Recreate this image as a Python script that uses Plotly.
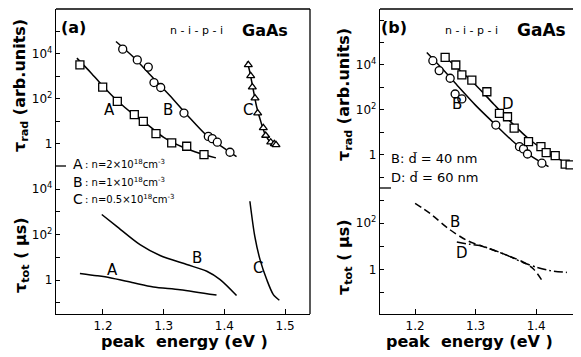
import plotly.graph_objects as go

# ---------------- data ----------------
# panel (a), top: tau_rad (arb. units) vs peak energy (eV)
a_A_x = [1.162, 1.1995, 1.2236, 1.2516, 1.2664, 1.2873, 1.3132, 1.3379, 1.3664]
a_A_y = [3240, 331, 76, 19.5, 9.8, 2.75, 1.07, 0.76, 0.32]
a_A_fit_x = [1.157, 1.18, 1.20, 1.225, 1.25, 1.275, 1.30, 1.33, 1.36, 1.386]
a_A_fit_y = [6450, 1450, 360, 75, 20, 6.5, 1.9, 0.72, 0.36, 0.23]

a_B_x = [1.2325, 1.2565, 1.2746, 1.284, 1.2951, 1.3334, 1.3735, 1.380, 1.3883, 1.4092]
a_B_y = [16200, 5370, 2570, 525, 316, 22.9, 2.09, 1.66, 1.15, 0.41]
a_B_fit_x = [1.2214, 1.25, 1.28, 1.31, 1.34, 1.37, 1.39, 1.42]
a_B_fit_y = [35500, 7200, 1000, 140, 17, 2.4, 0.95, 0.26]

a_C_x = [1.4394, 1.4433, 1.446, 1.4504, 1.4548, 1.4641, 1.468, 1.4763, 1.4822, 1.485]
a_C_y = [3240, 1050, 331, 107, 22.9, 5.0, 2.29, 1.15, 0.98, 0.87]
a_C_fit_x = [1.4377, 1.442, 1.447, 1.453, 1.46, 1.468, 1.476, 1.486]
a_C_fit_y = [4570, 1500, 300, 45, 9.5, 2.3, 1.15, 0.85]

# panel (a), bottom: tau_tot (us)
a_A_tot_x = [1.162, 1.19, 1.2115, 1.25, 1.283, 1.327, 1.387]
a_A_tot_y = [1.95, 1.55, 1.26, 0.76, 0.50, 0.38, 0.22]
a_B_tot_x = [1.198, 1.2226, 1.261, 1.294, 1.338, 1.371, 1.393, 1.420]
a_B_tot_y = [760, 229, 36, 12.0, 4.8, 2.45, 1.05, 0.21]
a_C_tot_x = [1.442, 1.450, 1.4587, 1.4697, 1.4806, 1.4905]
a_C_tot_y = [2900, 85, 7.9, 1.05, 0.23, 0.13]

# panel (b), top: tau_rad (arb. units)
b_B_x = [1.2293, 1.2397, 1.2579, 1.2661, 1.2772, 1.3333, 1.3724, 1.379, 1.3856, 1.4094]
b_B_y = [15500, 5620, 2570, 513, 309, 21.4, 2.34, 1.86, 1.10, 0.43]
b_B_fit_x = [1.2193, 1.245, 1.27, 1.30, 1.33, 1.36, 1.39, 1.4203]
b_B_fit_y = [36300, 6800, 1200, 160, 26, 4.4, 0.95, 0.30]

b_D_x = [1.2496, 1.2672, 1.2772, 1.2937, 1.3185, 1.3393, 1.3526, 1.3636,
         1.3873, 1.4078, 1.4165, 1.4314, 1.4479, 1.456]
b_D_y = [21900, 10000, 3630, 2140, 646, 71, 50, 15.5, 3.9, 2.34, 1.26, 0.93, 0.39, 0.36]
b_D_fit_x = [1.245, 1.27, 1.30, 1.33, 1.36, 1.39, 1.42, 1.456]
b_D_fit_y = [30000, 7200, 1300, 180, 26, 4.6, 1.2, 0.36]

# panel (b), bottom: tau_tot (us)
b_B_tot_x = [1.200, 1.2248, 1.255, 1.2855, 1.3074, 1.346, 1.379, 1.3955, 1.4094]
b_B_tot_y = [724, 263, 59, 18.2, 11.0, 4.8, 2.09, 1.07, 0.35]
b_D_tot_x = [1.2689, 1.29, 1.3074, 1.346, 1.379, 1.4012, 1.4231, 1.4507]
b_D_tot_y = [15.5, 12.5, 11.0, 4.8, 2.0, 1.26, 0.91, 0.76]

x_ticks_a = [1.2, 1.3, 1.4, 1.5]
x_ticks_b = [1.2, 1.3, 1.4]
decades = [1e-1, 1, 10, 100, 1e3, 1e4, 1e5, 1e6]
decade_labels = ["", "1", "", "10<sup>2</sup>", "", "10<sup>4</sup>", "", ""]

# ---------------- figure ----------------
BLK = "black"
FONT = "DejaVu Sans"
fig = go.Figure()

def line(x, y, xa, ya, dash="solid"):
    fig.add_trace(go.Scatter(x=x, y=y, xaxis=xa, yaxis=ya, mode="lines",
                             line=dict(color=BLK, width=1.5, dash=dash, shape="spline", smoothing=0.8),
                             showlegend=False, hoverinfo="skip"))

def marks(x, y, xa, ya, sym, size=8):
    fig.add_trace(go.Scatter(x=x, y=y, xaxis=xa, yaxis=ya, mode="markers",
                             marker=dict(symbol=sym, size=size, color="white",
                                         line=dict(color=BLK, width=1.3)),
                             showlegend=False, hoverinfo="skip"))

# (a) top -> x2/y2
line(a_A_fit_x, a_A_fit_y, "x2", "y2")
line(a_B_fit_x, a_B_fit_y, "x2", "y2")
line(a_C_fit_x, a_C_fit_y, "x2", "y2")
marks(a_A_x, a_A_y, "x2", "y2", "square", 8)
marks(a_B_x, a_B_y, "x2", "y2", "circle", 8)
marks(a_C_x, a_C_y, "x2", "y2", "triangle-up", 7)
# (a) bottom -> x/y
line(a_A_tot_x, a_A_tot_y, "x", "y")
line(a_B_tot_x, a_B_tot_y, "x", "y")
line(a_C_tot_x, a_C_tot_y, "x", "y")
# (b) top -> x4/y4
line(b_B_fit_x, b_B_fit_y, "x4", "y4")
line(b_D_fit_x, b_D_fit_y, "x4", "y4")
marks(b_B_x, b_B_y, "x4", "y4", "circle", 8)
marks(b_D_x, b_D_y, "x4", "y4", "square", 8)
# (b) bottom -> x3/y3
line(b_B_tot_x, b_B_tot_y, "x3", "y3", dash="7px,4px")
line(b_D_tot_x, b_D_tot_y, "x3", "y3", dash="9px,3px,2px,3px")

# the page body has an 8px margin, so figure pixel = screen pixel - 8
OFF = 8
W, H = 581, 357
L = 56 - OFF          # left edge of panel (a) frame
T = 9 - OFF           # top edge of frames
BOT = 314 - OFF       # bottom edge of frames (figure px)
RGT = 581 - OFF       # right edge of panel (b) area (figure px)
B = H - BOT
R = W - RGT
PW, PH = W - L - R, H - T - B

def px_x(p):  # screen px -> paper x
    return (p - OFF - L) / PW

def px_y(p):  # screen px -> paper y
    return (BOT - (p - OFF)) / PH

a_dom = [0, px_x(310)]
b_dom = [px_x(380), 1]
a_split = px_y(166)
b_split = px_y(188)

tickfont = dict(family=FONT, size=12, color=BLK)

def xax(dom, rng, ticks, anchor, visible=True):
    return dict(domain=dom, range=rng, anchor=anchor, visible=visible, automargin=False,
                tickvals=ticks, ticktext=[f"{t:.1f}" for t in ticks],
                ticks="inside", ticklen=5, tickwidth=1.2, tickcolor=BLK,
                showline=visible, linecolor=BLK, linewidth=1.3,
                showgrid=False, zeroline=False, tickfont=tickfont)

def yax(dom, rng, anchor):
    return dict(type="log", domain=dom, range=rng, anchor=anchor, automargin=False,
                tickvals=decades, ticktext=decade_labels,
                ticks="inside", ticklen=4, tickwidth=1.2, tickcolor=BLK,
                showline=True, linecolor=BLK, linewidth=1.3,
                showgrid=False, zeroline=False, tickfont=tickfont)

fig.update_layout(
    width=W, height=H,
    margin=dict(l=L, r=R, t=T, b=B, autoexpand=False),
    paper_bgcolor="white", plot_bgcolor="white",
    xaxis=xax(a_dom, [1.1226, 1.541], x_ticks_a, "y"),
    yaxis=yax([0, a_split], [-1.49, 5.01], "x"),
    xaxis2=xax(a_dom, [1.1226, 1.541], x_ticks_a, "y2", visible=False),
    yaxis2=yax([a_split, 1], [-1.0, 6.0], "x2"),
    xaxis3=xax(b_dom, [1.142, 1.474], x_ticks_b, "y3"),
    yaxis3=yax([0, b_split], [-1.91, 3.52], "x3"),
    xaxis4=xax(b_dom, [1.142, 1.474], x_ticks_b, "y4", visible=False),
    yaxis4=yax([b_split, 1], [-1.47, 6.49], "x4"),
)

# frame lines not provided by the axes (top edges, right edge of (a), separators)
shp = dict(type="line", xref="paper", yref="paper", line=dict(color=BLK, width=1.3))
fig.add_shape(x0=a_dom[0], x1=a_dom[1], y0=1, y1=1, **shp)
fig.add_shape(x0=a_dom[1], x1=a_dom[1], y0=0, y1=1, **shp)
fig.add_shape(x0=b_dom[0], x1=b_dom[1], y0=1, y1=1, **shp)
fig.add_shape(x0=a_dom[0], x1=a_dom[0] + 10 / PW, y0=a_split, y1=a_split, **shp)
fig.add_shape(x0=b_dom[0], x1=b_dom[0] + 11 / PW, y0=b_split, y1=b_split, **shp)

def ann(text, x, y, size=13, bold=False, angle=0, xanchor="center"):
    fig.add_annotation(text=f"<b>{text}</b>" if bold else text,
                       x=px_x(x), y=px_y(y), xref="paper", yref="paper",
                       xanchor=xanchor, yanchor="middle", showarrow=False,
                       textangle=angle, borderpad=0,
                       font=dict(family=FONT, size=size, color=BLK))

# axis titles
ann("τ<sub>rad</sub> (arb.units)", 21, 86, size=16, bold=True, angle=-90)
ann("τ<sub>tot</sub> ( μs)", 21, 255, size=16, bold=True, angle=-90)
ann("τ<sub>rad</sub> (arb.units)", 344, 95, size=16, bold=True, angle=-90)
ann("τ<sub>tot</sub> ( μs)", 344, 257, size=16, bold=True, angle=-90)
ann("peak  energy (eV )", 184, 341, size=16, bold=True)
ann("peak  energy (eV )", 469, 341, size=16, bold=True)

# panel labels
ann("(a)", 73, 27, size=16, bold=True)
ann("n - i - p - i", 196, 31, size=11)
ann("GaAs", 265, 30, size=16, bold=True)
ann("(b)", 394, 27, size=16, bold=True)
ann("n - i - p - i", 471, 31, size=11)
ann("GaAs", 541, 30, size=17, bold=True)

# curve labels (a)
ann("A", 109, 110, size=15)
ann("B", 168, 110, size=15)
ann("C", 248, 110, size=15)
ann("A", 112, 270, size=15)
ann("B", 197, 258, size=15)
ann("C", 258, 268, size=15)
ann("A", 72, 164, size=14, xanchor="left")
ann("B", 72, 182, size=14, xanchor="left")
ann("C", 72, 199, size=14, xanchor="left")
ann(": n=2×10<sup>18</sup>cm<sup>-3</sup>", 84, 164, size=10, xanchor="left")
ann(": n=1×10<sup>18</sup>cm<sup>-3</sup>", 84, 182, size=10, xanchor="left")
ann(": n=0.5×10<sup>18</sup>cm<sup>-3</sup>", 84, 199, size=10, xanchor="left")

# curve labels (b)
ann("B", 457, 104, size=15)
ann("D", 508, 104, size=15)
ann("B", 455, 222, size=15)
ann("D", 462, 253, size=15)
ann("B: d\u0303 = 40 nm", 390, 158, size=13, xanchor="left")
ann("D: d\u0303 = 60 nm", 390, 177, size=13, xanchor="left")

fig.write_html("out.html")
